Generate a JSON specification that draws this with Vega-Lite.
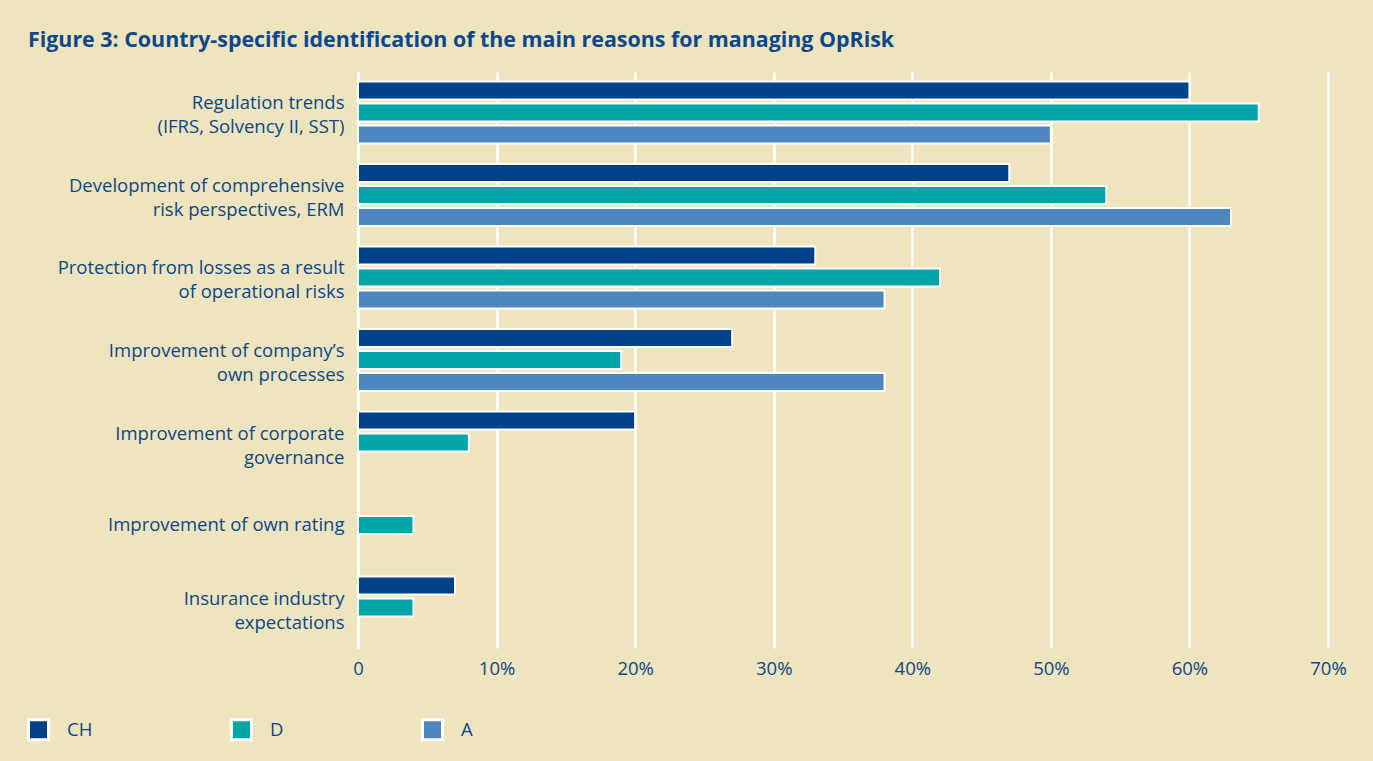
{
  "$schema": "https://vega.github.io/schema/vega-lite/v6.json",
  "width": 970,
  "height": 576,
  "autosize": {"type": "none"},
  "padding": {"left": 358, "top": 72, "right": 45, "bottom": 113},
  "background": "#EEE4BE",
  "title": {
    "text": "Figure 3: Country-specific identification of the main reasons for managing OpRisk",
    "anchor": "start",
    "frame": "group",
    "dx": -330,
    "dy": 22,
    "offset": 26,
    "baseline": "alphabetic",
    "font": "Open Sans",
    "fontSize": 21.4,
    "fontWeight": "bold",
    "color": "#0B478A"
  },
  "data": {
    "values": [
      {"reason": "Regulation trends|(IFRS, Solvency II, SST)", "country": "CH", "share": 60},
      {"reason": "Regulation trends|(IFRS, Solvency II, SST)", "country": "D", "share": 65},
      {"reason": "Regulation trends|(IFRS, Solvency II, SST)", "country": "A", "share": 50},
      {"reason": "Development of comprehensive |risk perspectives, ERM", "country": "CH", "share": 47},
      {"reason": "Development of comprehensive |risk perspectives, ERM", "country": "D", "share": 54},
      {"reason": "Development of comprehensive |risk perspectives, ERM", "country": "A", "share": 63},
      {"reason": "Protection from losses as a result|of operational risks", "country": "CH", "share": 33},
      {"reason": "Protection from losses as a result|of operational risks", "country": "D", "share": 42},
      {"reason": "Protection from losses as a result|of operational risks", "country": "A", "share": 38},
      {"reason": "Improvement of company’s|own processes", "country": "CH", "share": 27},
      {"reason": "Improvement of company’s|own processes", "country": "D", "share": 19},
      {"reason": "Improvement of company’s|own processes", "country": "A", "share": 38},
      {"reason": "Improvement of corporate|governance", "country": "CH", "share": 20},
      {"reason": "Improvement of corporate|governance", "country": "D", "share": 8},
      {"reason": "Improvement of corporate|governance", "country": "A", "share": 0},
      {"reason": "Improvement of own rating", "country": "CH", "share": 0},
      {"reason": "Improvement of own rating", "country": "D", "share": 4},
      {"reason": "Improvement of own rating", "country": "A", "share": 0},
      {"reason": "Insurance industry|expectations", "country": "CH", "share": 7},
      {"reason": "Insurance industry|expectations", "country": "D", "share": 4},
      {"reason": "Insurance industry|expectations", "country": "A", "share": 0}
    ]
  },
  "mark": {"type": "bar", "stroke": "white", "strokeWidth": 2},
  "encoding": {
    "y": {
      "field": "reason",
      "type": "nominal",
      "sort": null,
      "scale": {"paddingInner": 0.2485, "paddingOuter": 0.115},
      "axis": {
        "title": null,
        "labelExpr": "split(datum.label, '|')",
        "labelFont": "Open Sans",
        "labelFontSize": 18.5,
        "labelColor": "#0B478A",
        "labelLineHeight": 24,
        "labelPadding": 14,
        "labelLimit": 400,
        "labelOffset": {"condition": {"test": "indexof(datum.value, '|') >= 0", "value": -9}, "value": 0},
        "ticks": false,
        "domain": true,
        "domainColor": "white",
        "domainWidth": 3,
        "grid": false
      }
    },
    "yOffset": {
      "field": "country",
      "type": "nominal",
      "sort": ["CH", "D", "A"],
      "scale": {"paddingInner": 0.18, "paddingOuter": 0}
    },
    "x": {
      "field": "share",
      "type": "quantitative",
      "scale": {"domain": [0, 70], "nice": false},
      "axis": {
        "title": null,
        "values": [0, 10, 20, 30, 40, 50, 60, 70],
        "labelExpr": "datum.value == 0 ? '0' : datum.value + '%'",
        "labelFont": "Open Sans",
        "labelFontSize": 18.5,
        "labelColor": "#0B478A",
        "labelPadding": 11,
        "labelFlush": false,
        "ticks": false,
        "domain": false,
        "grid": true,
        "gridColor": "white",
        "gridWidth": 2.5,
        "gridOpacity": 1
      }
    },
    "color": {
      "field": "country",
      "type": "nominal",
      "sort": ["CH", "D", "A"],
      "scale": {"domain": ["CH", "D", "A"], "range": ["#00428A", "#00A5A7", "#4E86C2"]},
      "legend": {
        "title": null,
        "orient": "none",
        "direction": "horizontal",
        "legendX": -331,
        "legendY": 646,
        "symbolType": "square",
        "symbolSize": 400,
        "symbolStrokeColor": "white",
        "symbolStrokeWidth": 3,
        "symbolOpacity": 1,
        "labelFont": "Open Sans",
        "labelFontSize": 18.5,
        "labelColor": "#0B478A",
        "labelOffset": 17,
        "columnPadding": 132,
        "padding": 0
      }
    }
  },
  "config": {"view": {"stroke": null}}
}
